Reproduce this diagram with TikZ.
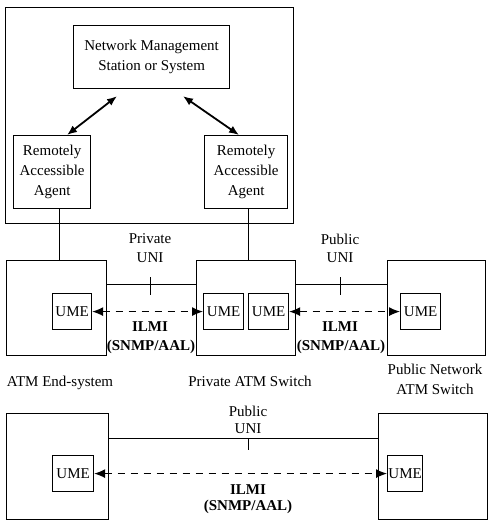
\documentclass[tikz,border=0pt]{standalone}
\usepackage{fontspec}
\setmainfont{Liberation Serif}
\usetikzlibrary{arrows.meta}
\begin{document}
\begin{tikzpicture}[x=1pt,y=-1pt,
  txt/.style={font=\fontsize{15}{20}\selectfont},
  box/.style={draw, line width=1.2pt, inner sep=0pt, anchor=north west, align=center, txt},
  sz/.style 2 args={minimum width=#1pt, minimum height=#2pt},
  lbl/.style={inner sep=0pt, align=center, txt},
  blbl/.style={inner sep=0pt, align=center, font=\fontsize{15}{20}\selectfont\bfseries},
  wire/.style={line width=1pt},
  mgmt/.style={line width=1.8pt, {Latex[length=10pt,width=8pt]}-{Latex[length=10pt,width=8pt]}},
  ilmi/.style={line width=1.1pt, dash pattern=on 7pt off 6pt, {Latex[length=11pt,width=9pt]}-{Latex[length=11pt,width=9pt]}}
]
\useasboundingbox (0,0) rectangle (489,520);

% management station area
\node[box, sz={288}{216}] (outer) at (5,7) {};
\node[box, sz={156}{63}] (nms) at (73,25) {Network Management\\Station or System};
\node[box, sz={77}{73}] (agL) at (13,135) {Remotely\\Accessible\\Agent};
\node[box, sz={83}{73}] (agR) at (204,135) {Remotely\\Accessible\\Agent};
\draw[mgmt] ([xshift=44pt,yshift=-7pt]nms.south west) -- ([xshift=54pt]agL.north west);
\draw[mgmt] ([xshift=110pt,yshift=-7pt]nms.south west) -- ([xshift=35pt]agR.north west);

% row 1
\node[box, sz={100}{95}] (es) at (6,260) {};
\node[box, sz={99}{95}] (ps) at (196,260) {};
\node[box, sz={98}{95}] (pub) at (387,260) {};
\node[box, sz={39}{36}] (umeA) at (52,293) {UME};
\node[box, sz={40}{36}] (umeB) at (203,293) {UME};
\node[box, sz={40}{36}] (umeC) at (248,293) {UME};
\node[box, sz={40}{36}] (umeD) at (400,293) {UME};

\draw[wire] (agL.south -| 59,0) -- (es.north -| 59,0);
\draw[wire] (agR.south -| 248,0) -- (ps.north -| 248,0);

\draw[wire] (es.east |- 0,284) -- (ps.west |- 0,284);
\draw[wire] (ps.east |- 0,284) -- (pub.west |- 0,284);
\coordinate (t1a) at (150,277); \coordinate (t1b) at (150,295);
\coordinate (t2a) at (340,277); \coordinate (t2b) at (340,295);
\draw[wire] (t1a) -- (t1b);
\draw[wire] (t2a) -- (t2b);

\draw[ilmi] (umeA.east) -- (umeB.west);
\draw[ilmi] (umeC.east) -- (umeD.west);

\node[lbl] (priv) at (150,239) {Private};
\node[lbl] (uni1) at (150,258) {UNI};
\node[lbl] (publ) at (340,239) {Public};
\node[lbl] (uni2) at (340,258) {UNI};
\node[blbl] (ilmi1) at (150,327) {ILMI};
\node[blbl] (snmp1) at (151,347) {(SNMP/AAL)};
\node[blbl] (ilmi2) at (340,327) {ILMI};
\node[blbl] (snmp2) at (341,347) {(SNMP/AAL)};

\node[lbl] (esl) at (60,383) {ATM End-system};
\node[lbl] (psl) at (250,381) {Private ATM Switch};
\node[lbl] (publ2) at (435,379) {Public Network\\ATM Switch};

% row 2
\node[box, sz={102}{106}] (l2) at (6,413) {};
\node[box, sz={109}{106}] (r2) at (378,413) {};
\node[box, sz={41}{36}] (umeE) at (52,455) {UME};
\node[box, sz={35}{36}] (umeF) at (387,455) {UME};
\draw[wire] (l2.east |- 0,438) -- (r2.west |- 0,438);
\coordinate (t3a) at (248,438); \coordinate (t3b) at (248,450);
\draw[wire] (t3a) -- (t3b);
\draw[ilmi] (umeE.east) -- (umeF.west);
\node[lbl] (publ3) at (248,411) {Public};
\node[lbl] (uni3) at (248,429) {UNI};
\node[blbl] (ilmi3) at (248,490) {ILMI};
\node[blbl] (snmp3) at (248,507) {(SNMP/AAL)};
\end{tikzpicture}
\end{document}
